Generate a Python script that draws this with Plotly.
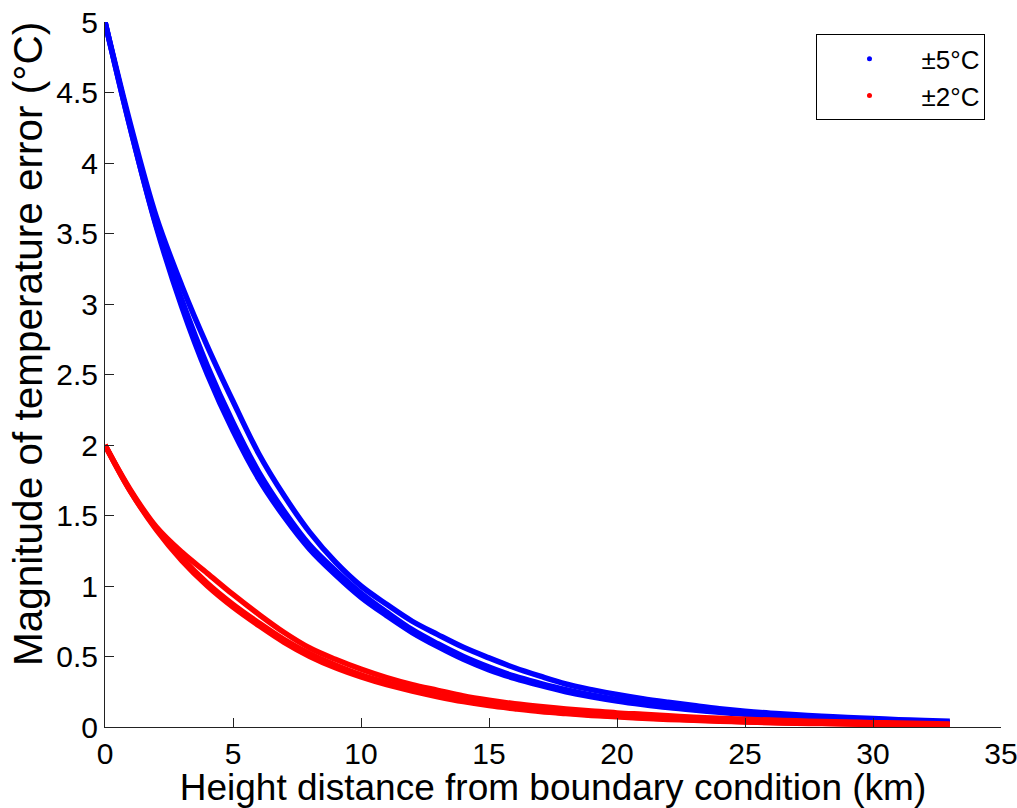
import plotly.graph_objects as go

# Height distance from boundary condition (km)
height_km = list(range(0, 34))

# ±5 °C runs (three nearly coincident solutions)
err5_a = [5.00, 4.27, 3.62, 3.13, 2.70, 2.31, 1.94, 1.64, 1.38, 1.17, 1.00, 0.87, 0.75, 0.655, 0.565,
          0.49, 0.42, 0.36, 0.305, 0.265, 0.23, 0.20, 0.175, 0.152, 0.13, 0.112, 0.098, 0.087, 0.077,
          0.068, 0.06, 0.052, 0.046, 0.04]
err5_b = [5.00, 4.24, 3.55, 2.98, 2.50, 2.10, 1.76, 1.49, 1.26, 1.08, 0.92, 0.79, 0.67, 0.57, 0.48,
          0.405, 0.345, 0.295, 0.25, 0.215, 0.185, 0.16, 0.138, 0.12, 0.104, 0.09, 0.078, 0.068, 0.06,
          0.052, 0.045, 0.04, 0.035, 0.03]
err5_c = [5.00, 4.24, 3.56, 3.03, 2.56, 2.16, 1.81, 1.53, 1.29, 1.11, 0.95, 0.815, 0.69, 0.59, 0.50,
          0.425, 0.36, 0.31, 0.265, 0.227, 0.195, 0.168, 0.145, 0.126, 0.109, 0.095, 0.082, 0.072, 0.063,
          0.055, 0.048, 0.042, 0.037, 0.032]

# ±2 °C runs
err2_a = [2.00, 1.68, 1.42, 1.24, 1.09, 0.94, 0.80, 0.67, 0.56, 0.48, 0.41, 0.35, 0.30, 0.26, 0.22,
          0.19, 0.165, 0.145, 0.128, 0.114, 0.10, 0.09, 0.08, 0.07, 0.062, 0.055, 0.049, 0.044, 0.039,
          0.035, 0.031, 0.028, 0.025, 0.022]
err2_b = [2.00, 1.67, 1.40, 1.18, 1.00, 0.85, 0.72, 0.60, 0.50, 0.42, 0.355, 0.30, 0.255, 0.215, 0.18,
          0.152, 0.13, 0.11, 0.095, 0.082, 0.072, 0.062, 0.054, 0.047, 0.041, 0.036, 0.031, 0.027, 0.024,
          0.021, 0.019, 0.017, 0.015, 0.013]
err2_c = [2.00, 1.67, 1.41, 1.20, 1.02, 0.87, 0.74, 0.62, 0.52, 0.44, 0.37, 0.315, 0.268, 0.226, 0.19,
          0.16, 0.137, 0.116, 0.10, 0.087, 0.076, 0.066, 0.058, 0.05, 0.044, 0.038, 0.033, 0.029, 0.026,
          0.023, 0.02, 0.018, 0.016, 0.014]

series = [
    ("±5°C", "#0000ff", [err5_a, err5_b, err5_c]),
    ("±2°C", "#ff0000", [err2_a, err2_b, err2_c]),
]

FONT = "Liberation Sans, Arial, Helvetica, sans-serif"

fig = go.Figure()
for name, color, runs in series:
    for run in runs:
        fig.add_trace(go.Scatter(
            x=height_km, y=run, mode="lines", line=dict(color=color, width=5.5, shape="spline"),
            showlegend=False, hoverinfo="skip"))
for name, color, runs in series:
    fig.add_trace(go.Scatter(
        x=[None], y=[None], mode="markers", name=name,
        marker=dict(color=color, size=5)))

axis_common = dict(
    showline=True, linecolor="#222", linewidth=1, mirror=False,
    ticks="inside", ticklen=9, tickwidth=1, tickcolor="#222",
    showgrid=False, zeroline=False, automargin=False,
    ticklabeloverflow="allow",
    tickfont=dict(family=FONT, size=30, color="black"),
)

fig.update_layout(
    width=1017, height=808,
    margin=dict(l=105, r=16, t=22, b=81),
    paper_bgcolor="white", plot_bgcolor="white",
    font=dict(family=FONT, color="black"),
    xaxis=dict(range=[0, 35], tickmode="linear", tick0=0, dtick=5,
               title=dict(text="Height distance from boundary condition (km)",
                          font=dict(family=FONT, size=37), standoff=0),
               **axis_common),
    yaxis=dict(range=[0, 5], tickmode="linear", tick0=0, dtick=0.5,
               **axis_common),
    annotations=[dict(
        text="Magnitude of temperature error (°C)", textangle=-90,
        xref="paper", yref="paper", x=-0.0854, y=0.544,
        xanchor="center", yanchor="middle", showarrow=False,
        font=dict(family=FONT, size=40.5, color="black"))],
    legend=dict(x=0.9827, y=0.9826, xanchor="right", yanchor="top",
                bordercolor="black", borderwidth=1, bgcolor="white",
                font=dict(family=FONT, size=26), itemwidth=94,
                tracegroupgap=0),
)

fig.write_html("out.html")
